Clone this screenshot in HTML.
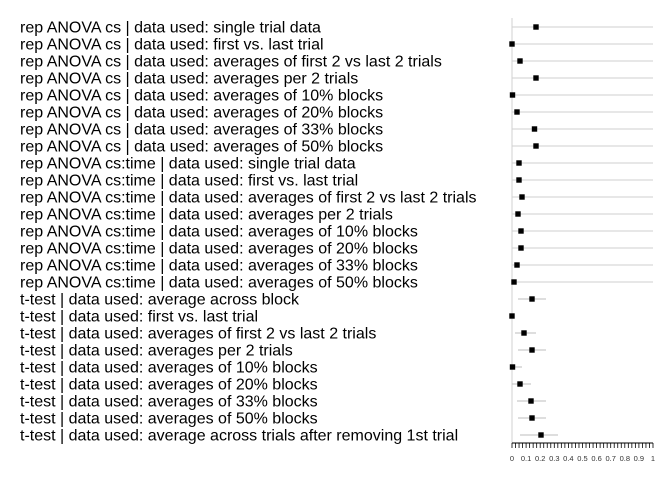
<!DOCTYPE html>
<html><head><meta charset="utf-8"><style>body{margin:0;background:#fff}svg{display:block}</style></head><body>
<svg width="672" height="480" xmlns="http://www.w3.org/2000/svg" font-family="Liberation Sans, sans-serif">
<rect width="672" height="480" fill="#fff"/>
<line x1="512" y1="18" x2="512" y2="443" stroke="#d9d9d9" stroke-width="1.2"/>
<g stroke="#cfcfcf" stroke-width="1">
<line x1="512" y1="27" x2="653" y2="27"/><line x1="512" y1="44" x2="653" y2="44"/><line x1="512" y1="61" x2="653" y2="61"/><line x1="512" y1="78" x2="653" y2="78"/><line x1="512" y1="95" x2="653" y2="95"/><line x1="512" y1="112" x2="653" y2="112"/><line x1="512" y1="129" x2="653" y2="129"/><line x1="512" y1="146" x2="653" y2="146"/><line x1="512" y1="163" x2="653" y2="163"/><line x1="512" y1="180" x2="653" y2="180"/><line x1="512" y1="197" x2="653" y2="197"/><line x1="512" y1="214" x2="653" y2="214"/><line x1="512" y1="231" x2="653" y2="231"/><line x1="512" y1="248" x2="653" y2="248"/><line x1="512" y1="265" x2="653" y2="265"/><line x1="512" y1="282" x2="653" y2="282"/>
</g>
<g stroke="#bdbdbd" stroke-width="1">
<line x1="518" y1="299" x2="546" y2="299"/><line x1="515" y1="333" x2="536" y2="333"/><line x1="518" y1="350" x2="546" y2="350"/><line x1="512" y1="367" x2="522" y2="367"/><line x1="512" y1="384" x2="531" y2="384"/><line x1="517" y1="401" x2="546" y2="401"/><line x1="518" y1="418" x2="546" y2="418"/><line x1="520" y1="435" x2="558" y2="435"/>
</g>
<g fill="#000">
<rect x="533.3" y="24.3" width="5.4" height="5.4"/><rect x="509.3" y="41.3" width="5.4" height="5.4"/><rect x="517.3" y="58.3" width="5.4" height="5.4"/><rect x="533.3" y="75.3" width="5.4" height="5.4"/><rect x="509.8" y="92.3" width="5.4" height="5.4"/><rect x="514.3" y="109.3" width="5.4" height="5.4"/><rect x="531.8" y="126.3" width="5.4" height="5.4"/><rect x="533.3" y="143.3" width="5.4" height="5.4"/>
<rect x="516.3" y="160.3" width="5.4" height="5.4"/><rect x="516.3" y="177.3" width="5.4" height="5.4"/><rect x="519.3" y="194.3" width="5.4" height="5.4"/><rect x="515.3" y="211.3" width="5.4" height="5.4"/><rect x="518.3" y="228.3" width="5.4" height="5.4"/><rect x="518.3" y="245.3" width="5.4" height="5.4"/><rect x="514.3" y="262.3" width="5.4" height="5.4"/><rect x="511.3" y="279.3" width="5.4" height="5.4"/>
<rect x="529.3" y="296.3" width="5.4" height="5.4"/><rect x="509.3" y="313.3" width="5.4" height="5.4"/><rect x="521.3" y="330.3" width="5.4" height="5.4"/><rect x="529.3" y="347.3" width="5.4" height="5.4"/><rect x="509.8" y="364.3" width="5.4" height="5.4"/><rect x="517.3" y="381.3" width="5.4" height="5.4"/><rect x="528.3" y="398.3" width="5.4" height="5.4"/><rect x="529.3" y="415.3" width="5.4" height="5.4"/><rect x="538.3" y="432.3" width="5.4" height="5.4"/>
</g>
<g font-size="16" fill="#000">
<text x="20" y="32.5">rep ANOVA cs | data used: single trial data</text>
<text x="20" y="49.5">rep ANOVA cs | data used: first vs. last trial</text>
<text x="20" y="66.5">rep ANOVA cs | data used: averages of first 2 vs last 2 trials</text>
<text x="20" y="83.5">rep ANOVA cs | data used: averages per 2 trials</text>
<text x="20" y="100.5">rep ANOVA cs | data used: averages of 10% blocks</text>
<text x="20" y="117.5">rep ANOVA cs | data used: averages of 20% blocks</text>
<text x="20" y="134.5">rep ANOVA cs | data used: averages of 33% blocks</text>
<text x="20" y="151.5">rep ANOVA cs | data used: averages of 50% blocks</text>
<text x="20" y="168.5">rep ANOVA cs:time | data used: single trial data</text>
<text x="20" y="185.5">rep ANOVA cs:time | data used: first vs. last trial</text>
<text x="20" y="202.5">rep ANOVA cs:time | data used: averages of first 2 vs last 2 trials</text>
<text x="20" y="219.5">rep ANOVA cs:time | data used: averages per 2 trials</text>
<text x="20" y="236.5">rep ANOVA cs:time | data used: averages of 10% blocks</text>
<text x="20" y="253.5">rep ANOVA cs:time | data used: averages of 20% blocks</text>
<text x="20" y="270.5">rep ANOVA cs:time | data used: averages of 33% blocks</text>
<text x="20" y="287.5">rep ANOVA cs:time | data used: averages of 50% blocks</text>
<text x="20" y="304.5">t-test | data used: average across block</text>
<text x="20" y="321.5">t-test | data used: first vs. last trial</text>
<text x="20" y="338.5">t-test | data used: averages of first 2 vs last 2 trials</text>
<text x="20" y="355.5">t-test | data used: averages per 2 trials</text>
<text x="20" y="372.5">t-test | data used: averages of 10% blocks</text>
<text x="20" y="389.5">t-test | data used: averages of 20% blocks</text>
<text x="20" y="406.5">t-test | data used: averages of 33% blocks</text>
<text x="20" y="423.5">t-test | data used: averages of 50% blocks</text>
<text x="20" y="440.5">t-test | data used: average across trials after removing 1st trial</text>
</g>
<line x1="512" y1="443" x2="653" y2="443" stroke="#000" stroke-width="1"/>
<line x1="511.6" y1="445.5" x2="653.8" y2="445.5" stroke="#000" stroke-width="5" stroke-dasharray="0.8 2.725"/>
<g font-size="7.5" fill="#333" text-anchor="middle">
<text x="512" y="461">0</text><text x="526.1" y="461">0.1</text><text x="540.2" y="461">0.2</text><text x="554.3" y="461">0.3</text><text x="568.4" y="461">0.4</text><text x="582.5" y="461">0.5</text><text x="596.6" y="461">0.6</text><text x="610.7" y="461">0.7</text><text x="624.8" y="461">0.8</text><text x="638.9" y="461">0.9</text><text x="653" y="461">1</text>
</g>
</svg>
</body></html>
